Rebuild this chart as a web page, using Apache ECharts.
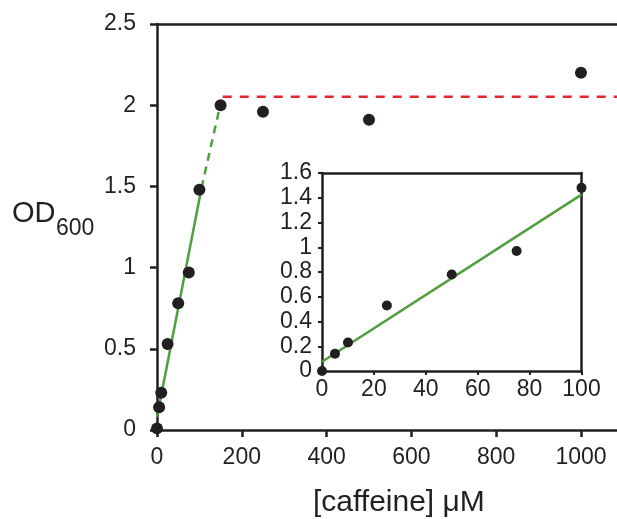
<!DOCTYPE html>
<html>
<head>
<meta charset="utf-8">
<script src="https://cdn.jsdelivr.net/npm/echarts@6/dist/echarts.min.js"></script>
<style>html,body{margin:0;padding:0;background:#fff;}#c{width:617px;height:519px;}</style>
</head>
<body>
<div id="c"></div>
<script>
// ---- data ----
var caffeine = [0, 5, 10, 25, 50, 75, 100, 150, 250, 500, 1000];
var od600 = [0.01, 0.14, 0.23, 0.53, 0.78, 0.97, 1.48, 2.0, 1.96, 1.91, 2.2];
var insetX = [0, 5, 10, 25, 50, 75, 100];
var insetY = [0.0, 0.14, 0.23, 0.53, 0.78, 0.97, 1.48];
var fitSolidX = [0, 105];
var fitSolidY = [0.08, 1.49];
var fitDashX = [105, 149];
var fitDashY = [1.49, 2.0];
var plateauX = [155, 1085];
var plateauY = [2.052, 2.052];
var insetFitX = [0, 100];
var insetFitY = [0.075, 1.425];
var mainXTicks = [0, 200, 400, 600, 800, 1000];

function pairs(xs, ys) { return xs.map(function (x, i) { return [x, ys[i]]; }); }

var INK = '#231f20';
var GREEN = '#4e9f3d';
var RED = '#e3262d';
var FONT = "'Liberation Sans', Arial, Helvetica, sans-serif";

var chart = echarts.init(document.getElementById('c'));
chart.setOption({
  animation: false,
  backgroundColor: '#fff',
  grid: [
    { left: 157, top: 24, right: 0, bottom: 89 },
    { left: 322, top: 173, right: 35.5, bottom: 148, show: true, backgroundColor: '#fff', borderWidth: 0, z: 5 }
  ],
  xAxis: [
    { gridIndex: 0, type: 'value', position: 'bottom', min: 0, max: 1085, interval: 200,
      axisLine: { onZero: false, lineStyle: { color: INK, width: 2.5 } },
      axisTick: { show: true, length: 7, customValues: mainXTicks, lineStyle: { color: INK, width: 2.5 } },
      axisLabel: { color: INK, fontSize: 23, fontFamily: FONT, margin: 16, customValues: mainXTicks,
        formatter: function (v) { return String(v); } },
      splitLine: { show: false } },
    { gridIndex: 0, type: 'value', position: 'top', min: 0, max: 1085, interval: 200,
      axisLine: { onZero: false, lineStyle: { color: INK, width: 2.5 } },
      axisTick: { show: false }, axisLabel: { show: false }, splitLine: { show: false } },
    { gridIndex: 1, type: 'value', position: 'bottom', min: 0, max: 100, interval: 20,
      axisLine: { onZero: false, lineStyle: { color: INK, width: 2.5 } },
      axisTick: { show: true, length: 4, lineStyle: { color: INK, width: 2 } },
      axisLabel: { color: INK, fontSize: 23, fontFamily: FONT, margin: 7 },
      splitLine: { show: false }, z: 6 },
    { gridIndex: 1, type: 'value', position: 'top', min: 0, max: 100, interval: 20,
      axisLine: { onZero: false, lineStyle: { color: INK, width: 2.5 } },
      axisTick: { show: false }, axisLabel: { show: false }, splitLine: { show: false }, z: 6 }
  ],
  yAxis: [
    { gridIndex: 0, type: 'value', position: 'left', min: 0, max: 2.5, interval: 0.5,
      axisLine: { onZero: false, lineStyle: { color: INK, width: 2.5 } },
      axisTick: { show: true, length: 7, lineStyle: { color: INK, width: 2.5 } },
      axisLabel: { color: INK, fontSize: 23, fontFamily: FONT, margin: 21 },
      splitLine: { show: false } },
    { gridIndex: 1, type: 'value', position: 'left', min: 0, max: 1.6, interval: 0.2,
      axisLine: { onZero: false, lineStyle: { color: INK, width: 2.5 } },
      axisTick: { show: true, length: 4, lineStyle: { color: INK, width: 2 } },
      axisLabel: { color: INK, fontSize: 23, fontFamily: FONT, margin: 10 },
      splitLine: { show: false }, z: 6 },
    { gridIndex: 1, type: 'value', position: 'right', min: 0, max: 1.6, interval: 0.2,
      axisLine: { onZero: false, lineStyle: { color: INK, width: 2.5 } },
      axisTick: { show: false }, axisLabel: { show: false }, splitLine: { show: false }, z: 6 }
  ],
  graphic: [
    { type: 'text', left: 12, top: 199, z: 10,
      style: { text: 'OD', fontSize: 29, fontFamily: FONT, fill: INK } },
    { type: 'text', left: 56, top: 217, z: 10,
      style: { text: '600', fontSize: 23, fontFamily: FONT, fill: INK } },
    { type: 'text', left: 313, top: 488, z: 10,
      style: { text: '[caffeine] μM', fontSize: 30, fontFamily: FONT, fill: INK } }
  ],
  series: [
    { type: 'line', xAxisIndex: 0, yAxisIndex: 0, data: pairs(fitSolidX, fitSolidY), showSymbol: false, symbol: 'none',
      lineStyle: { color: GREEN, width: 2.5 }, z: 2 },
    { type: 'line', xAxisIndex: 0, yAxisIndex: 0, data: pairs(fitDashX, fitDashY), showSymbol: false, symbol: 'none',
      lineStyle: { color: GREEN, width: 2.5, type: [8, 6] }, z: 2 },
    { type: 'line', xAxisIndex: 0, yAxisIndex: 0, data: pairs(plateauX, plateauY), showSymbol: false, symbol: 'none',
      lineStyle: { color: RED, width: 2.5, type: [9, 8] }, z: 2 },
    { type: 'scatter', xAxisIndex: 0, yAxisIndex: 0, data: pairs(caffeine, od600), symbol: 'circle', symbolSize: 12,
      itemStyle: { color: INK, opacity: 1 }, z: 3 },
    { type: 'line', xAxisIndex: 2, yAxisIndex: 1, data: pairs(insetFitX, insetFitY), showSymbol: false, symbol: 'none',
      lineStyle: { color: GREEN, width: 2.5 }, z: 7 },
    { type: 'scatter', xAxisIndex: 2, yAxisIndex: 1, data: pairs(insetX, insetY), symbol: 'circle', symbolSize: 10,
      itemStyle: { color: INK, opacity: 1 }, z: 8 }
  ]
});
</script>
</body>
</html>
